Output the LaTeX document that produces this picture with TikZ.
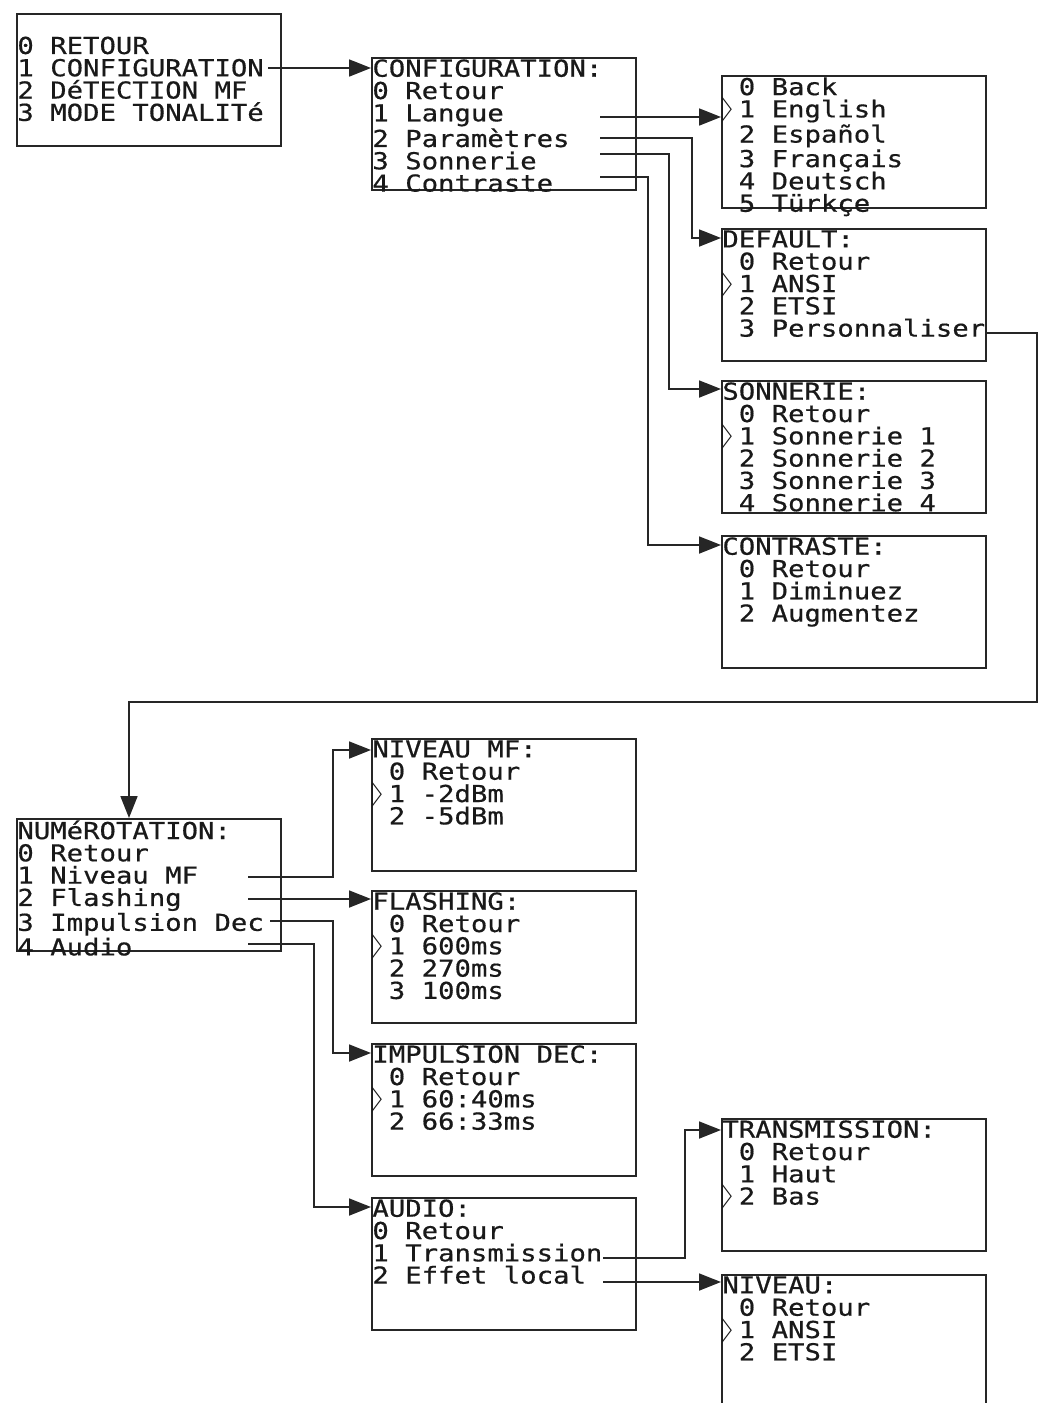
\documentclass[tikz,border=0pt]{standalone}
\usepackage{fontspec}
\usepackage{graphicx}
\usepackage{tikz}
\usetikzlibrary{positioning,arrows.meta,calc}
\newfontfamily\lcdfont[FakeStretch=1.17,FakeBold=0.6]{DejaVu Sans Mono}
\newfontfamily\markfont{DejaVu Sans}
\newcommand{\nomark}{\hphantom{0}}
\newcommand{\selmark}{\makebox[0pt][l]{\smash{\raisebox{-0.6pt}{\scalebox{0.55}[1.45]{\markfont ▷}}}}\hphantom{0}}

\begin{document}
\begin{tikzpicture}[
    x=0.5pt, y=-0.5pt,
    menu/.style={rectangle, draw=black!85, line width=0.9pt, minimum width=132pt,
                 minimum height=66pt, anchor=north west, inner sep=0pt},
    lcd/.style={anchor=north west, inner sep=0pt, align=left, text=black!90,
                font=\lcdfont\fontsize{11.66pt}{11.15pt}\selectfont},
    link/.style={-{Triangle[length=11pt, width=8.5pt]}, line width=0.9pt, draw=black!85}
]
\useasboundingbox (0,0) rectangle (1046,1403);

% Top: main menu and configuration
\node[menu] (main) at (16,13) {};
\node[lcd, anchor=west] (main-t) at ([shift={(0.5pt,0.5pt)}]main.west)
    {0 RETOUR\\1 CONFIGURATION\\2 DéTECTION MF\\3 MODE TONALITé};
\node[menu] (config) at (371,57) {};
\node[lcd] (config-t) at ([shift={(0.5pt,-1pt)}]config.north west)
    {CONFIGURATION:\\0 Retour\\1 Langue\\2 Paramètres\\3 Sonnerie\\4 Contraste};

% Right column: configuration submenus
\node[menu] (langue) at (721,75) {};
\node[lcd] (langue-t) at ([shift={(0.5pt,-1pt)}]langue.north west)
    {\nomark 0 Back\\\selmark 1 English\\\nomark 2 Español\\\nomark 3 Français\\\nomark 4 Deutsch\\\nomark 5 Türkçe};
\node[menu] (defaut) at (721,228) {};
\node[lcd] (defaut-t) at ([shift={(0.5pt,-1pt)}]defaut.north west)
    {DEFAULT:\\\nomark 0 Retour\\\selmark 1 ANSI\\\nomark 2 ETSI\\\nomark 3 Personnaliser};
\node[menu] (sonnerie) at (721,380) {};
\node[lcd] (sonnerie-t) at ([shift={(0.5pt,-1pt)}]sonnerie.north west)
    {SONNERIE:\\\nomark 0 Retour\\\selmark 1 Sonnerie 1\\\nomark 2 Sonnerie 2\\\nomark 3 Sonnerie 3\\\nomark 4 Sonnerie 4};
\node[menu] (contraste) at (721,535) {};
\node[lcd] (contraste-t) at ([shift={(0.5pt,-1pt)}]contraste.north west)
    {CONTRASTE:\\\nomark 0 Retour\\\nomark 1 Diminuez\\\nomark 2 Augmentez};

% Bottom: numerotation and its submenus
\node[menu] (numero) at (16,818) {};
\node[lcd] (numero-t) at ([shift={(0.5pt,-1pt)}]numero.north west)
    {NUMéROTATION:\\0 Retour\\1 Niveau MF\\2 Flashing\\3 Impulsion Dec\\4 Audio};
\node[menu] (nivmf) at (371,738) {};
\node[lcd] (nivmf-t) at ([shift={(0.5pt,-1pt)}]nivmf.north west)
    {NIVEAU MF:\\\nomark 0 Retour\\\selmark 1 -2dBm\\\nomark 2 -5dBm};
\node[menu] (flashing) at (371,890) {};
\node[lcd] (flashing-t) at ([shift={(0.5pt,-1pt)}]flashing.north west)
    {FLASHING:\\\nomark 0 Retour\\\selmark 1 600ms\\\nomark 2 270ms\\\nomark 3 100ms};
\node[menu] (impulsion) at (371,1043) {};
\node[lcd] (impulsion-t) at ([shift={(0.5pt,-1pt)}]impulsion.north west)
    {IMPULSION DEC:\\\nomark 0 Retour\\\selmark 1 60:40ms\\\nomark 2 66:33ms};
\node[menu] (audio) at (371,1197) {};
\node[lcd] (audio-t) at ([shift={(0.5pt,-1pt)}]audio.north west)
    {AUDIO:\\0 Retour\\1 Transmission\\2 Effet local};
\node[menu] (transm) at (721,1118) {};
\node[lcd] (transm-t) at ([shift={(0.5pt,-1pt)}]transm.north west)
    {TRANSMISSION:\\\nomark 0 Retour\\\nomark 1 Haut\\\selmark 2 Bas};
\node[menu] (niveau) at (721,1274) {};
\node[lcd] (niveau-t) at ([shift={(0.5pt,-1pt)}]niveau.north west)
    {NIVEAU:\\\nomark 0 Retour\\\selmark 1 ANSI\\\nomark 2 ETSI};

% Line ends
\coordinate (main-1) at (268,68);
\coordinate (config-1) at (600,117);
\coordinate (config-2) at (600,138);
\coordinate (config-3) at (600,154);
\coordinate (config-4) at (600,177);
\coordinate (defaut-3) at (985,333);
\coordinate (retour) at (1037,702);
\coordinate (numero-1) at (248,877);
\coordinate (numero-2) at (248,899);
\coordinate (numero-3) at (270,921);
\coordinate (numero-4) at (248,944);
\coordinate (audio-1) at (603,1258);
\coordinate (audio-2) at (603,1282);

% Connectors
\draw[link] (main-1) -- (main-1 -| config.west);
\draw[link] (config-1) -- (config-1 -| langue.west);
\draw[link] (config-2) -- ++(92,0) |- ([yshift=-5pt]defaut.north west);
\draw[link] (config-3) -- ++(69,0) |- ([yshift=-4.5pt]sonnerie.north west);
\draw[link] (config-4) -- ++(48,0) |- ([yshift=-5pt]contraste.north west);
\draw[link] (defaut-3) -| (retour) -| ([xshift=56.5pt]numero.north west);
\draw[link] (numero-1) -- ++(85,0) |- ([yshift=-6pt]nivmf.north west);
\draw[link] (numero-2) -- (numero-2 -| flashing.west);
\draw[link] (numero-3) -- ++(63,0) |- ([yshift=-5pt]impulsion.north west);
\draw[link] (numero-4) -- ++(66,0) |- ([yshift=-5pt]audio.north west);
\draw[link] (audio-1) -- ++(82,0) |- ([yshift=-6pt]transm.north west);
\draw[link] (audio-2) -- (audio-2 -| niveau.west);

\end{tikzpicture}
\end{document}
